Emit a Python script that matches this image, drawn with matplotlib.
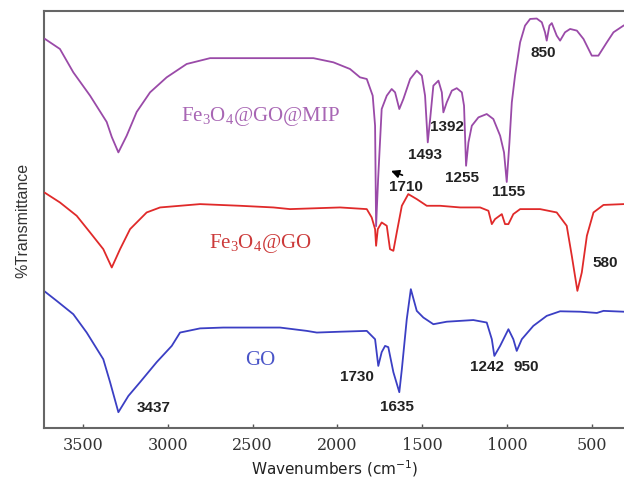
import matplotlib.pyplot as plt

# FTIR spectra (wavenumber in cm-1, transmittance in arbitrary offset units)
mip_wn = [3726, 3638, 3559, 3460, 3362, 3332, 3293, 3244, 3185, 3106, 3008, 2890, 2752, 2575,
          2378, 2142, 2024, 1926, 1867, 1827, 1792, 1778, 1772, 1760, 1739, 1709, 1680, 1660,
          1635, 1611, 1571, 1532, 1502, 1483, 1467, 1453, 1434, 1404, 1384, 1375, 1355, 1325,
          1296, 1266, 1253, 1241, 1227, 1207, 1168, 1119, 1080, 1040, 1017, 1001, 985, 971,
          952, 922, 893, 863, 824, 794, 775, 765, 749, 735, 706, 686, 657, 627, 587, 548,
          499, 460, 410, 371, 312]
mip_t = [93.3, 90.9, 85.3, 79.7, 73.4, 69.8, 66.1, 70.1, 75.8, 80.5, 84.1, 87.3, 88.7, 88.7,
         88.7, 88.7, 87.7, 86.1, 84.1, 83.7, 79.7, 72.5, 48.4, 59.7, 76.5, 79.7, 81.3, 80.5,
         76.5, 78.9, 83.7, 85.7, 84.5, 79.7, 68.5, 74.1, 82.1, 83.3, 80.5, 75.7, 78.1, 80.9,
         81.5, 80.5, 77.3, 62.9, 68.5, 72.5, 74.5, 75.3, 74.1, 70.1, 66.1, 59.0, 68.5, 78.1,
         84.5, 92.5, 96.5, 98.1, 98.2, 97.3, 94.9, 92.9, 96.5, 97.1, 94.1, 92.9, 94.9, 95.7,
         95.3, 93.3, 89.3, 89.3, 92.5, 94.9, 96.5]

fego_wn = [3726, 3638, 3539, 3460, 3382, 3332, 3283, 3224, 3126, 3047, 2811, 2575, 2378, 2280,
           1985, 1827, 1798, 1778, 1772, 1762, 1739, 1709, 1690, 1670, 1650, 1620, 1582, 1532,
           1473, 1394, 1276, 1158, 1109, 1089, 1070, 1030, 1011, 991, 962, 922, 804, 706,
           647, 617, 584, 558, 528, 489, 430, 312]
fego_t = [56.4, 54.1, 50.9, 46.9, 42.9, 38.5, 42.9, 47.7, 51.7, 52.9, 53.7, 53.3, 52.9, 52.5,
          52.9, 52.5, 50.5, 47.7, 43.7, 47.7, 49.3, 48.5, 42.9, 42.5, 46.9, 53.3, 56.1, 54.9,
          53.3, 53.3, 52.9, 52.9, 52.1, 48.9, 50.1, 51.3, 48.9, 48.9, 51.3, 52.5, 52.5, 51.7,
          48.5, 41.3, 32.9, 37.3, 46.1, 51.7, 53.5, 53.7]

go_wn = [3726, 3657, 3559, 3480, 3382, 3342, 3293, 3234, 3165, 3067, 2978, 2929, 2811, 2674,
         2339, 2181, 2122, 1985, 1827, 1778, 1759, 1739, 1719, 1700, 1670, 1635, 1620, 1591,
         1567, 1532, 1493, 1434, 1355, 1198, 1119, 1089, 1074, 1040, 991, 962, 942, 912,
         844, 765, 686, 568, 469, 430, 312]
go_t = [32.7, 30.5, 27.3, 22.9, 16.5, 11.0, 3.8, 7.7, 11.0, 15.8, 19.7, 22.9, 23.9, 24.1,
        24.1, 23.3, 22.9, 23.1, 23.3, 21.3, 14.9, 18.2, 19.7, 19.4, 13.4, 8.6, 14.1, 26.1,
        33.3, 28.1, 26.5, 24.9, 25.5, 25.9, 25.3, 21.3, 17.3, 19.7, 23.7, 21.3, 18.5, 21.3,
        24.5, 26.9, 28.0, 27.9, 27.6, 28.1, 27.9]

# peak labels
peak_text = ["850", "1392", "1493", "1255", "1155", "1710", "580",
             "3437", "1730", "1635", "1242", "950"]
peak_x = [788, 1351, 1483, 1266, 991, 1595, 420, 3087, 1886, 1650, 1119, 883]
peak_y = [90.1, 72.5, 65.7, 60.1, 56.9, 58.1, 39.7, 5.0, 12.4, 5.3, 14.9, 14.8]

series_names = ["Fe$_\\mathrm{3}$O$_\\mathrm{4}$@GO@MIP", "Fe$_\\mathrm{3}$O$_\\mathrm{4}$@GO", "GO"]
line_colors = ["#9a4aa8", "#e02a2a", "#3b3fc4"]
label_colors = ["#a866b4", "#cc3a3a", "#4a55c8"]
label_y = [74.9, 44.5, 16.5]

plt.rcParams['mathtext.fontset'] = 'custom'
plt.rcParams['mathtext.rm'] = 'Liberation Serif'

fig = plt.figure(figsize=(6.24, 4.81), dpi=100)
ax = fig.add_axes([0.0705, 0.108, 0.933, 0.867])

# purple on top, as in the reference
zorders = [4, 3, 2]
for wn, t, c, z in zip([mip_wn, fego_wn, go_wn], [mip_t, fego_t, go_t], line_colors, zorders):
    ax.plot(wn, t, color=c, linewidth=1.3, zorder=z)

for name, c, y in zip(series_names, label_colors, label_y):
    ax.text(2457, y, name, color=c, fontsize=15, family='Liberation Serif',
            ha='center', va='center')

for s, x, y in zip(peak_text, peak_x, peak_y):
    ax.text(x, y, s, fontsize=11, weight='bold', family='Liberation Sans',
            color='#222222', ha='center', va='center')

# small arrow next to 1710
ax.annotate("", xy=(1699, 61.9), xytext=(1601, 60.4),
            arrowprops=dict(arrowstyle='-|>', color='black', lw=1.2, mutation_scale=12))

ax.set_xlim(3732, 296)
ax.set_ylim(0, 100)
ax.set_xticks([3500, 3000, 2500, 2000, 1500, 1000, 500])
ax.set_yticks([])
ax.tick_params(axis='x', direction='in', length=3, width=1, color='#555555',
               labelsize=11.5, labelcolor='#333333', pad=6)
for lab in ax.get_xticklabels():
    lab.set_family('DejaVu Serif')

for sp in ax.spines.values():
    sp.set_color('#666666')
    sp.set_linewidth(1.5)

ax.set_xlabel("Wavenumbers (cm$^{\\mathdefault{-1}}$)", fontsize=11, color='#222222',
              family='DejaVu Sans', labelpad=3)
ax.set_ylabel("%Transmittance", fontsize=11.5, color='#333333', family='Liberation Sans',
              labelpad=10)

fig.savefig("out.png", dpi=100)
